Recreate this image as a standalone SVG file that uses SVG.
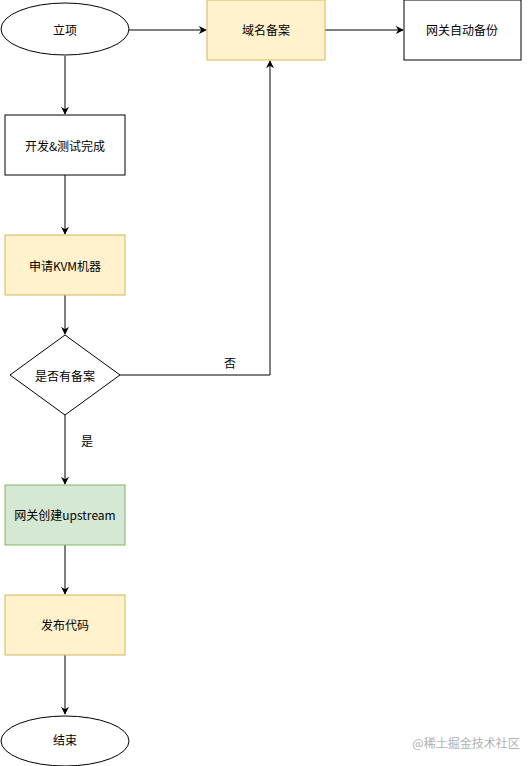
<svg xmlns="http://www.w3.org/2000/svg" width="531" height="766" viewBox="0 0 531 766">
<style>
text{font-family:"Noto Sans CJK SC","Liberation Sans",sans-serif;font-size:12px;fill:#000;text-anchor:middle;dominant-baseline:central}
.b{fill:#fff;stroke:#000;stroke-width:1}
.y{fill:#fff2cc;stroke:#d6b656;stroke-width:1}
.g{fill:#d5e8d4;stroke:#82b366;stroke-width:1}
.c{fill:none;stroke:#000;stroke-width:1;marker-end:url(#a)}
</style>
<defs>
<marker id="a" viewBox="0 0 10 10" refX="9" refY="5" markerWidth="8" markerHeight="8" markerUnits="userSpaceOnUse" orient="auto">
<path d="M0,0 L10,5 L0,10 L3,5 Z" fill="#000"/>
</marker>
</defs>
<rect width="531" height="766" fill="#fff"/>
<g id="connectors">
<path class="c" d="M129,30 H206"/>
<path class="c" d="M325,30 H403"/>
<path class="c" d="M65,56 V114"/>
<path class="c" d="M65,175 V234"/>
<path class="c" d="M65,295 V334"/>
<path class="c" d="M120,375 H270 V61"/>
<path class="c" d="M65,415 V484"/>
<path class="c" d="M65,545 V594"/>
<path class="c" d="M65,655 V714"/>
<text x="230" y="362">否</text>
<text x="87" y="440">是</text>
</g>
<g id="start"><ellipse class="b" cx="65" cy="29" rx="64" ry="26"/><text x="65" y="29">立项</text></g>
<g id="domain"><rect class="y" x="207" y="0" width="118" height="60"/><text x="266" y="29">域名备案</text></g>
<g id="backup"><rect class="b" x="404" y="0" width="117" height="60"/><text x="462" y="29">网关自动备份</text></g>
<g id="dev"><rect class="b" x="5" y="115" width="120" height="60"/><text x="65" y="145">开发&amp;测试完成</text></g>
<g id="kvm"><rect class="y" x="5" y="235" width="120" height="60"/><text x="65" y="265">申请KVM机器</text></g>
<g id="decision"><path class="b" d="M65,335 L120,375 L65,415 L10,375 Z"/><text x="65" y="375">是否有备案</text></g>
<g id="upstream"><rect class="g" x="5" y="485" width="120" height="60"/><text x="65" y="514">网关创建upstream</text></g>
<g id="publish"><rect class="y" x="5" y="595" width="120" height="60"/><text x="65" y="624">发布代码</text></g>
<g id="end"><ellipse class="b" cx="65" cy="741" rx="64" ry="25"/><text x="65" y="739">结束</text></g>
<text x="466" y="742" style="fill:#b0b0b0;font-size:12px">@稀土掘金技术社区</text>
</svg>
